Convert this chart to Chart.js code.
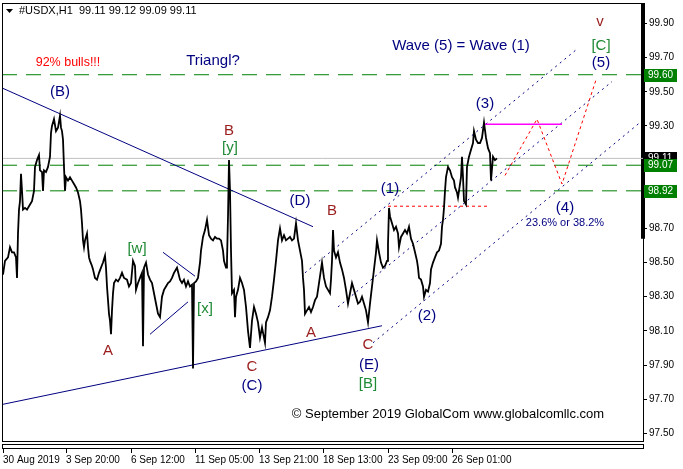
<!DOCTYPE html>
<html>
<head>
<meta charset="utf-8">
<script src="https://cdn.jsdelivr.net/npm/chart.js@4.4.0/dist/chart.umd.min.js"></script>
<style>
  html, body { margin: 0; padding: 0; background: #fff; }
</style>
</head>
<body>
<canvas id="usdxChart" width="683" height="469"></canvas>
<script>
// hourly bars, index counted from 30 Aug 2019 00:00
const barIdx = [
  0, 2, 5, 7, 9, 11, 13, 14, 15, 16,
  17, 18, 19, 20, 22, 24, 27, 29, 31, 32,
  34, 36, 37, 39, 40, 41, 43, 45, 47, 48,
  49, 51, 53, 55, 57, 58, 59, 60, 61, 62,
  63, 65, 67, 69, 71, 73, 75, 77, 78, 79,
  80, 81, 82, 84, 85, 86, 87, 89, 90, 92,
  94, 96, 98, 100, 102, 103, 104, 105, 106, 107,
  108, 109, 110, 111, 113, 115, 117, 119, 121, 124,
  126, 128, 130, 132, 133, 135, 137, 139, 140, 141,
  143, 145, 147, 149, 151, 153, 155, 157, 159, 161,
  163, 165, 167, 169, 171, 174, 177, 179, 181, 183,
  185, 187, 189, 190, 191, 193, 195, 197, 198, 200,
  202, 204, 206, 208, 210, 212, 214, 216, 218, 220,
  221, 223, 224, 225, 226, 227, 228, 229, 231, 232,
  233, 235, 237, 239, 241, 243, 245, 247, 249, 251,
  253, 255, 257, 259, 262, 263, 265, 267, 269, 271,
  273, 275, 277, 279, 281, 283, 285, 287, 289, 291,
  293, 295, 297, 299, 300, 301, 302, 304, 306, 308,
  310, 312, 314, 316, 318, 319, 321, 323, 325, 327,
  328, 329, 330, 331, 333, 335, 337, 339, 341, 343,
  345, 347, 349, 351, 353, 355, 357, 359, 361, 363,
  365, 367, 369, 371, 373, 374, 376, 378, 380, 382,
  384, 385, 386, 387, 389, 391, 393, 395, 396, 398,
  400, 402, 404, 406, 408, 410, 412, 414, 415, 416,
  418, 420, 421, 423, 425, 427, 428, 430, 432, 434,
  436, 438, 439, 440, 441, 442, 443, 445, 447, 449,
  451, 452, 454, 455, 456, 458, 459, 460, 461, 463,
  464, 466, 468, 470, 471, 473, 475, 477, 479, 481,
  483, 485, 487, 488, 490, 492, 494
];
const closes = [
  98.43, 98.51, 98.53, 98.59, 98.56, 98.56, 98.53, 98.41, 98.67, 98.81,
  98.86, 99.02, 98.92, 98.81, 98.82, 98.81, 98.84, 98.86, 98.92, 99.06,
  99.10, 99.13, 99.04, 99.03, 98.92, 99.04, 99.03, 99.06, 99.12, 99.26,
  99.30, 99.34, 99.27, 99.29, 99.36, 99.29, 99.27, 99.22, 99.06, 98.92,
  99.00, 98.98, 99.00, 98.98, 98.96, 98.94, 98.91, 98.86, 98.81, 98.73,
  98.63, 98.59, 98.63, 98.67, 98.59, 98.53, 98.51, 98.48, 98.46, 98.41,
  98.40, 98.44, 98.47, 98.50, 98.54, 98.47, 98.36, 98.28, 98.20, 98.16,
  98.08, 98.22, 98.32, 98.38, 98.40, 98.39, 98.41, 98.44, 98.41, 98.40,
  98.36, 98.38, 98.51, 98.48, 98.34, 98.38, 98.41, 98.44, 98.01, 98.47,
  98.50, 98.43, 98.40, 98.38, 98.32, 98.26, 98.20, 98.18, 98.30, 98.34,
  98.36, 98.38, 98.39, 98.41, 98.44, 98.47, 98.40, 98.38, 98.40, 98.36,
  98.39, 98.36, 98.37, 97.88, 98.38, 98.39, 98.41, 98.50, 98.57, 98.65,
  98.69, 98.75, 98.66, 98.64, 98.63, 98.65, 98.64, 98.64, 98.63, 98.57,
  98.51, 98.47, 98.51, 98.77, 99.10, 98.92, 98.57, 98.32, 98.34, 98.18,
  98.30, 98.34, 98.41, 98.38, 98.34, 98.24, 98.10, 98.00, 98.16, 98.24,
  98.20, 98.15, 98.06, 98.12, 98.03, 98.15, 98.18, 98.22, 98.30, 98.40,
  98.51, 98.63, 98.70, 98.63, 98.66, 98.63, 98.64, 98.65, 98.63, 98.64,
  98.73, 98.63, 98.57, 98.51, 98.41, 98.34, 98.20, 98.22, 98.24, 98.21,
  98.24, 98.28, 98.30, 98.38, 98.46, 98.50, 98.41, 98.36, 98.34, 98.32,
  98.40, 98.51, 98.69, 98.57, 98.53, 98.56, 98.50, 98.46, 98.41, 98.34,
  98.26, 98.32, 98.38, 98.34, 98.30, 98.26, 98.27, 98.30, 98.26, 98.22,
  98.15, 98.26, 98.36, 98.46, 98.56, 98.63, 98.56, 98.50, 98.47, 98.48,
  98.51, 98.61, 98.82, 98.77, 98.73, 98.69, 98.71, 98.67, 98.59, 98.65,
  98.67, 98.69, 98.67, 98.71, 98.64, 98.61, 98.56, 98.51, 98.47, 98.41,
  98.40, 98.36, 98.30, 98.34, 98.33, 98.38, 98.46, 98.50, 98.53, 98.56,
  98.57, 98.61, 98.71, 98.75, 98.82, 98.92, 99.00, 99.06, 99.04, 99.00,
  98.98, 98.94, 98.91, 98.88, 98.92, 99.00, 99.12, 99.00, 98.86, 98.84,
  99.06, 99.12, 99.16, 99.20, 99.27, 99.22, 99.20, 99.20, 99.23, 99.32,
  99.23, 99.17, 99.14, 98.98, 99.12, 99.10, 99.11
];

const priceTicks = [97.5, 97.7, 97.9, 98.1, 98.3, 98.5, 98.7, 98.9, 99.1, 99.3, 99.5, 99.7, 99.9];
const dateTicks = [0, 63, 128, 192, 256, 320, 385, 449];
const dateLabels = ['30 Aug 2019', '3 Sep 20:00', '6 Sep 12:00', '11 Sep 05:00',
  '13 Sep 21:00', '18 Sep 13:00', '23 Sep 09:00', '26 Sep 01:00'];

const greenLevels = [99.60, 99.07, 98.92];
const lastPrice = 99.11;

// trend lines: [bar, price] end points
const triangleTop = [[0, 99.52], [310, 98.71]];
const triangleBottom = [[0, 97.67], [379, 98.13]];
const wedgeTop = [[160, 98.56], [192, 98.42]];
const wedgeBottom = [[147, 98.08], [185, 98.27]];
const channelA = [[302, 98.44], [574, 99.75]];
const channelB = [[335, 98.24], [609, 99.56]];
const channelC = [[370, 98.03], [637, 99.32]];
const forecastPath = [[502, 99.01], [534, 99.34], [559, 98.96], [593, 99.57]];
const wave3Level = [[481, 99.31], [559, 99.31]];
const wave1Level = [[385, 98.83], [484, 98.83]];
const endMarker = [[640, 100.02], [640, 98.64]];

const NAVY = '#000080', DRED = '#9a1c1c', GREEN = '#1f8a34';
const waveLabels = [
  ['92% bulls!!!', 65, 99.67, '#ff0000', 12.5],
  ['Triangl?', 210, 99.68, NAVY, 15],
  ['Wave (5) = Wave (1)', 458, 99.77, NAVY, 15],
  ['v', 597, 99.91, DRED, 15],
  ['[C]', 598, 99.77, GREEN, 15],
  ['(5)', 598, 99.67, NAVY, 15],
  ['(B)', 57, 99.50, NAVY, 15],
  ['B', 226, 99.27, DRED, 15],
  ['[y]', 227, 99.17, GREEN, 15],
  ['(D)', 297, 98.86, NAVY, 15],
  ['B', 329, 98.80, DRED, 15],
  ['(1)', 387, 98.93, NAVY, 15],
  ['(3)', 482, 99.43, NAVY, 15],
  ['[w]', 134, 98.58, GREEN, 15],
  ['[x]', 202, 98.23, GREEN, 15],
  ['A', 105, 97.98, DRED, 15],
  ['C', 249, 97.89, DRED, 15],
  ['(C)', 249, 97.78, NAVY, 15],
  ['A', 308, 98.09, DRED, 15],
  ['C', 365, 98.02, DRED, 15],
  ['(E)', 366, 97.90, NAVY, 15],
  ['[B]', 365, 97.79, GREEN, 15],
  ['(2)', 424, 98.19, NAVY, 15],
  ['(4)', 562, 98.82, NAVY, 15],
  ['23.6% or 38.2%', 562, 98.73, NAVY, 11],
  ['\u00A9 September 2019 GlobalCom www.globalcomllc.com', 445, 97.61, '#000', 13]
];

const FONT = '"Liberation Sans", Arial, sans-serif';
const toXY = pts => pts.map(p => ({ x: p[0], y: p[1] }));
const seg = (pts, color, dash, width) => ({
  data: toXY(pts), borderColor: color, borderWidth: width || 1,
  borderDash: dash || [], pointRadius: 0, tension: 0
});

const pricePoints = barIdx.map((b, k) => ({ x: b, y: closes[k] }));

const datasets = [
  { data: pricePoints, borderColor: '#000', borderWidth: 1.8, pointRadius: 0, tension: 0 },
  seg(forecastPath, '#ff0000', [3, 3]),
  seg(wave3Level, '#ff00ff', [], 1.5),
  seg(wave1Level, '#ff0000', [3, 3]),
  seg(triangleTop, NAVY),
  seg(triangleBottom, NAVY),
  seg(wedgeTop, NAVY),
  seg(wedgeBottom, NAVY),
  seg(channelA, NAVY, [2, 4]),
  seg(channelB, NAVY, [2, 4]),
  seg(channelC, NAVY, [2, 4]),
  ...greenLevels.map(v => seg([[-1, v], [640, v]], '#008000', [15, 9])),
  seg([[-1, lastPrice], [640, lastPrice]], '#c0c0c0'),
  Object.assign(seg(endMarker, '#000', [], 4), { clip: false })
];

const overlay = {
  id: 'overlay',
  afterDatasetsDraw(chart) {
    const { ctx, scales: { x, y } } = chart;
    ctx.save();
    ctx.textAlign = 'center';
    ctx.textBaseline = 'middle';
    waveLabels.forEach(([t, b, p, c, s]) => {
      ctx.font = s + 'px ' + FONT;
      ctx.fillStyle = c;
      ctx.fillText(t, x.getPixelForValue(b), y.getPixelForValue(p));
    });
    // header
    ctx.textAlign = 'left';
    ctx.font = '11px ' + FONT;
    ctx.fillStyle = '#000';
    ctx.fillText('#USDX,H1  99.11 99.12 99.09 99.11', 19, 11);
    ctx.beginPath();
    ctx.moveTo(6, 9); ctx.lineTo(13, 9); ctx.lineTo(9.5, 13); ctx.closePath();
    ctx.fill();
    ctx.restore();
  },
  afterDraw(chart) {
    const { ctx, chartArea: a, scales: { x, y } } = chart;
    ctx.save();
    ctx.strokeStyle = '#000';
    ctx.lineWidth = 1;
    ctx.strokeRect(a.left + 0.5, a.top + 0.5, a.right - a.left, a.bottom - a.top);
    ctx.strokeRect(a.left + 0.5, a.bottom + 3.5, a.right - a.left, 4);
    dateTicks.forEach(t => {
      const px = Math.round(x.getPixelForValue(t)) + 0.5;
      ctx.beginPath(); ctx.moveTo(px, a.bottom + 8); ctx.lineTo(px, a.bottom + 12); ctx.stroke();
    });
    // price tags on the axis
    ctx.font = '10px ' + FONT;
    ctx.textBaseline = 'middle';
    ctx.textAlign = 'left';
    const tag = (v, bg) => {
      const py = Math.round(y.getPixelForValue(v));
      ctx.fillStyle = bg;
      ctx.fillRect(a.right + 1, py - 6, 33, 13);
      ctx.fillStyle = '#fff';
      ctx.fillText(v.toFixed(2), a.right + 5, py + 0.5);
    };
    tag(lastPrice, '#000');
    greenLevels.forEach(v => tag(v, '#008000'));
    ctx.restore();
  }
};

new Chart(document.getElementById('usdxChart'), {
  type: 'line',
  data: { datasets },
  options: {
    responsive: false,
    animation: false,
    layout: { padding: { top: 3, left: 2, right: 0, bottom: 0 } },
    plugins: { legend: { display: false }, tooltip: { enabled: false } },
    scales: {
      x: {
        type: 'linear', min: -1, max: 640, position: 'bottom',
        grid: { display: false }, border: { display: false },
        afterBuildTicks: s => { s.ticks = dateTicks.map(v => ({ value: v })); },
        afterFit: s => { s.height = 28; s.paddingLeft = 0; s.paddingRight = 0; },
        ticks: {
          align: 'start', padding: 5, maxRotation: 0, autoSkip: false,
          color: '#000', font: { size: 10, family: FONT },
          callback: v => dateLabels[dateTicks.indexOf(v)]
        }
      },
      y: {
        type: 'linear', position: 'right', min: 97.455, max: 100.02,
        grid: { drawOnChartArea: false, tickLength: 4, color: '#000' },
        border: { color: '#000' },
        afterBuildTicks: s => { s.ticks = priceTicks.map(v => ({ value: v })); },
        afterFit: s => { s.width = 40; s.paddingTop = 0; s.paddingBottom = 0; },
        ticks: {
          padding: 2, color: '#000', font: { size: 10, family: FONT },
          callback: v => v.toFixed(2)
        }
      }
    }
  },
  plugins: [overlay]
});
</script>
</body>
</html>
